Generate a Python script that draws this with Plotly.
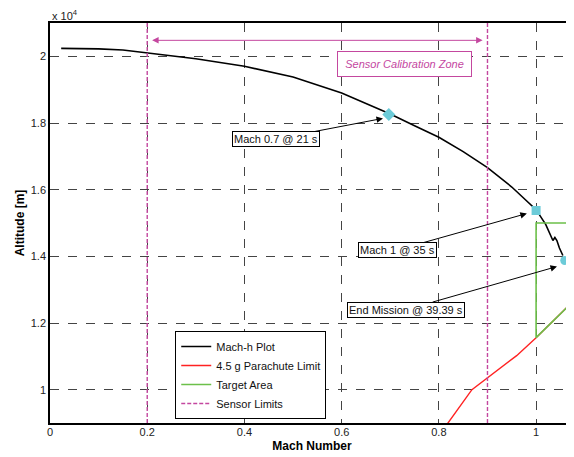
import plotly.graph_objects as go

# ---- data ----
mach_path = [0.023, 0.05, 0.1, 0.15, 0.2, 0.3, 0.4, 0.5, 0.6, 0.7, 0.75, 0.8, 0.85, 0.9,
             0.95, 1.0, 1.02, 1.0346, 1.0387, 1.0428, 1.048, 1.0551]
alt_path = [20240, 20240, 20225, 20190, 20110, 19930, 19700, 19380, 18900, 18270, 17920,
            17570, 17140, 16660, 16080, 15400, 14950, 14475, 14565, 14475, 14250, 14024]

para_mach = [0.80, 0.868, 0.960, 1.0, 1.1]
para_alt = [8620, 10000, 11020, 11560, 12990]

target_mach = [1.1, 1.0, 1.0, 1.1]
target_alt = [15000, 15000, 11560, 12990]

sensor_limits = [0.2, 0.9]

events_mach = [0.697, 1.0, 1.059]
events_alt = [18258, 15375, 13874]
events_symbol = ["diamond", "square", "circle"]
events_label = ["Mach 0.7 @ 21 s", "Mach 1 @ 35 s", "End Mission @ 39.39 s"]
label_tip_mach = [0.685, 0.981, 1.043]
label_tip_alt = [18138, 15285, 13694]
label_box_mach = [0.465, 0.714, 0.733]
label_box_alt = [17523, 14189, 12402]

x_ticks = [0, 0.2, 0.4, 0.6, 0.8, 1.0]
x_ticktext = ["0", "0.2", "0.4", "0.6", "0.8", "1"]
y_ticks = [10000, 12000, 14000, 16000, 18000, 20000]
y_ticktext = ["1", "1.2", "1.4", "1.6", "1.8", "2"]

zone_from, zone_to, zone_alt = 0.207, 0.89, 20480
zone_label_mach, zone_label_alt = 0.730, 19775

X_RANGE = [0, 1.078]
Y_RANGE = [9000, 21000]

BLACK = "#000000"
RED = "#ff2222"
GREEN = "#6cc04a"
MAGENTA = "#c4479f"
CYAN = "#6ccbd8"
FONT = "Liberation Sans, Arial, sans-serif"

fig = go.Figure()

fig.add_trace(go.Scatter(x=mach_path, y=alt_path, mode="lines", name="Mach-h Plot",
                         line=dict(color=BLACK, width=1.6)))
fig.add_trace(go.Scatter(x=para_mach, y=para_alt, mode="lines", name="4.5 g Parachute Limit",
                         line=dict(color=RED, width=1.4)))
fig.add_trace(go.Scatter(x=target_mach, y=target_alt, mode="lines", name="Target Area",
                         line=dict(color=GREEN, width=1.6)))

sx, sy = [], []
for m in sensor_limits:
    sx += [m, m, None]
    sy += [Y_RANGE[0], Y_RANGE[1], None]
fig.add_trace(go.Scatter(x=sx, y=sy, mode="lines", name="Sensor Limits",
                         line=dict(color=MAGENTA, width=1.4, dash="4px,2px")))

for m, a, s in zip(events_mach, events_alt, events_symbol):
    fig.add_trace(go.Scatter(x=[m], y=[a], mode="markers", showlegend=False,
                             marker=dict(symbol=s, color=CYAN, size=9 if s != "diamond" else 10,
                                         line=dict(width=0))))

annotations = []
for lbl, tx, ty, bx, by in zip(events_label, label_tip_mach, label_tip_alt,
                               label_box_mach, label_box_alt):
    annotations.append(dict(
        x=tx, y=ty, ax=bx, ay=by, xref="x", yref="y", axref="x", ayref="y",
        text=lbl, showarrow=True, arrowhead=2, arrowsize=1.3, arrowwidth=1,
        arrowcolor=BLACK, bgcolor="white", bordercolor=BLACK, borderwidth=1,
        borderpad=1, font=dict(family=FONT, size=11, color="#111")))

annotations.append(dict(
    x=zone_to, y=zone_alt, ax=zone_from, ay=zone_alt, xref="x", yref="y",
    axref="x", ayref="y", text=" ", showarrow=True, arrowhead=2, startarrowhead=2,
    arrowside="end+start", arrowsize=1.3, startarrowsize=1.3, arrowwidth=1,
    arrowcolor=MAGENTA, font=dict(size=1)))
annotations.append(dict(
    x=zone_label_mach, y=zone_label_alt, xref="x", yref="y", showarrow=False,
    text="<i>Sensor Calibration Zone</i>", width=125, height=16, borderpad=4,
    bgcolor="white", bordercolor=MAGENTA, borderwidth=1,
    font=dict(family=FONT, size=11, color=MAGENTA)))
annotations.append(dict(
    x=0, y=1, xref="paper", yref="paper", xanchor="left", yanchor="bottom",
    yshift=-1, showarrow=False, text="x 10<sup>4</sup>",
    font=dict(family=FONT, size=11, color="#222")))

# the page body has an 8px default margin, so the figure is 8px smaller
fig.update_layout(
    width=566, height=449,
    margin=dict(l=42, r=0, t=15, b=34, autoexpand=False),
    paper_bgcolor="white", plot_bgcolor="white",
    font=dict(family=FONT, size=11, color="#222"),
    annotations=annotations,
    legend=dict(x=0.239, y=0.12, xanchor="left", yanchor="middle",
                bgcolor="white", bordercolor=BLACK, borderwidth=1,
                font=dict(family=FONT, size=11, color="#111"),
                tracegroupgap=0),
    xaxis=dict(range=X_RANGE, tickvals=x_ticks, ticktext=x_ticktext, automargin=False,
               showgrid=True, gridcolor="#444", griddash="dash", gridwidth=1,
               showline=True, linecolor=BLACK, linewidth=1.5, mirror=True,
               zeroline=False, ticks="", ticklen=0, ticklabelstandoff=-2,
               title=dict(text="<b>Mach Number</b>", standoff=5,
                          font=dict(family=FONT, size=12, color=BLACK))),
    yaxis=dict(range=Y_RANGE, tickvals=y_ticks, ticktext=y_ticktext, automargin=False,
               showgrid=True, gridcolor="#444", griddash="dash", gridwidth=1,
               showline=True, linecolor=BLACK, linewidth=1.5,
               zeroline=False, ticks="", ticklen=0,
               title=dict(text="<b>Altitude [m]</b>", standoff=4,
                          font=dict(family=FONT, size=12, color=BLACK))),
)

fig.write_html("out.html")
